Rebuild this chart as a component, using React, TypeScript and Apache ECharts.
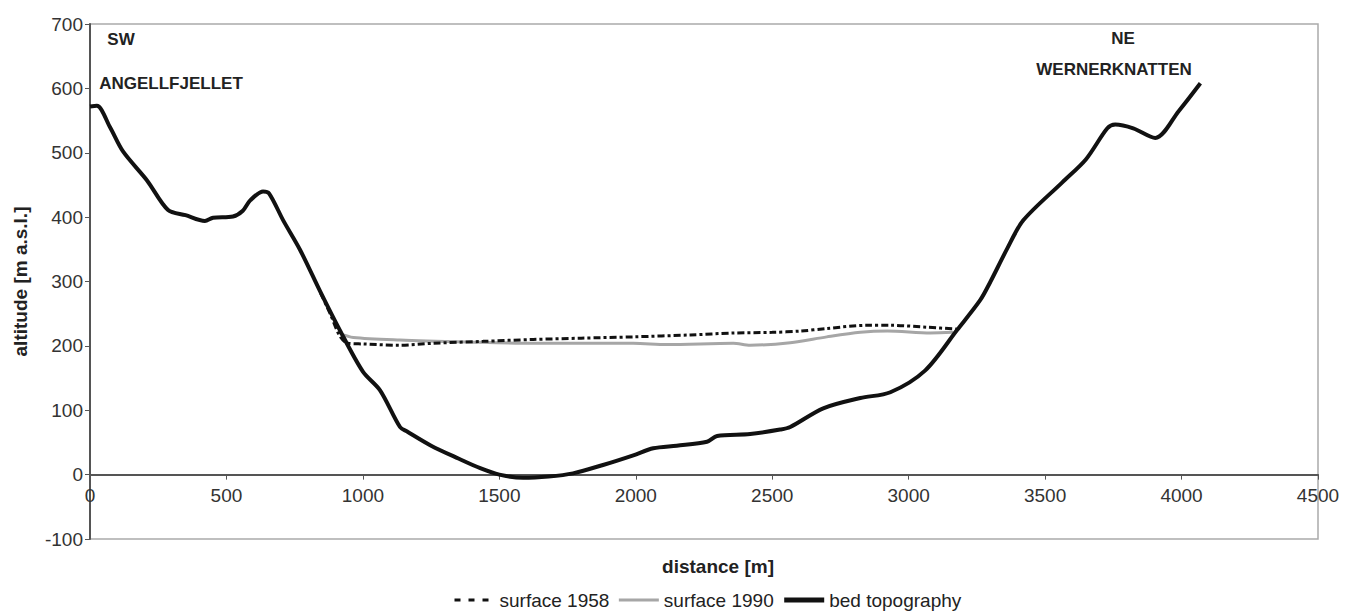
import React, { useEffect, useRef } from "react";
import * as echarts from "echarts";

const bedDistance = [0, 25, 73, 121, 209, 286, 350, 421, 451, 524, 560, 587, 634, 656, 708, 770, 843, 916, 1000, 1063, 1136, 1162, 1250, 1350, 1430, 1500, 1587, 1680, 1770, 1880, 1991, 2064, 2150, 2261, 2298, 2419, 2529, 2566, 2687, 2823, 2933, 3061, 3178, 3262, 3300, 3361, 3420, 3563, 3650, 3728, 3757, 3823, 3904, 3990, 4069];
const bedAltitude = [572, 573, 540, 502, 457, 411, 403, 394, 399, 401, 410, 426, 440, 437, 395, 349, 285, 224, 160, 131, 74, 67, 45, 25, 10, 0, -5, -3, 2, 15, 30, 41, 45, 51, 60, 63, 70, 74, 103, 119, 128, 162, 225, 271, 300, 351, 395, 454, 490, 538, 544, 538, 523, 565, 608];

const s1958Distance = [845, 880, 916, 945, 1000, 1136, 1257, 1440, 1624, 1800, 1991, 2200, 2357, 2500, 2603, 2700, 2848, 2933, 3068, 3178];
const s1958Altitude = [282, 250, 215, 204, 203, 201, 204, 207, 210, 212, 214, 217, 220, 221, 223, 227, 232, 232, 229, 226];

const s1990Distance = [916, 965, 1136, 1382, 1624, 1991, 2114, 2357, 2419, 2566, 2700, 2823, 2922, 3080, 3163];
const s1990Altitude = [219, 213, 209, 206, 204, 204, 202, 204, 201, 205, 214, 221, 223, 220, 221];

const xTicks = { min: 0, max: 4500, interval: 500 };
const yTicks = { min: -100, max: 700, interval: 100 };

const pairs = (xs: number[], ys: number[]) => xs.map((x, i) => [x, ys[i]]);

const FONT = "'Liberation Sans', Arial, sans-serif";
const GRID_TOP = 24;
const GRID_BOTTOM = 75;
const HEIGHT = 614;

export default function App() {
  const ref = useRef<HTMLDivElement>(null);
  useEffect(() => {
    document.body.style.margin = "0";
    const chart = echarts.init(ref.current!, null, { renderer: "svg" });
    const plotH = HEIGHT - GRID_TOP - GRID_BOTTOM;
    const zeroOffset = -plotH * (0 - yTicks.min) / (yTicks.max - yTicks.min);
    chart.setOption({
      animation: false,
      textStyle: { fontFamily: FONT },
      grid: {
        left: 90,
        top: GRID_TOP,
        right: 34,
        bottom: GRID_BOTTOM,
        show: true,
        borderColor: "#aaaaaa",
        borderWidth: 1.5,
      },
      legend: {
        left: 453,
        top: 589,
        itemWidth: 40,
        itemHeight: 14,
        itemGap: 8,
        padding: 0,
        itemStyle: { opacity: 0 },
        textStyle: { fontSize: 19, lineHeight: 22, color: "#222", fontFamily: FONT },
        data: [
          { name: "surface 1958", lineStyle: { type: [6, 8], width: 3, color: "#111" } },
          { name: "surface 1990", lineStyle: { width: 3, color: "#a6a6a6" } },
          { name: "bed topography", lineStyle: { width: 5, color: "#111" } },
        ],
      },
      xAxis: {
        type: "value",
        min: xTicks.min,
        max: xTicks.max,
        interval: xTicks.interval,
        offset: zeroOffset,
        axisLine: { show: true, onZero: false, lineStyle: { color: "#555", width: 2 } },
        axisTick: { show: true, length: 5, lineStyle: { color: "#555" } },
        axisLabel: { fontSize: 19, color: "#333", margin: 11, fontFamily: FONT, formatter: (v: number) => String(v) },
        splitLine: { show: false },
      },
      yAxis: {
        type: "value",
        min: yTicks.min,
        max: yTicks.max,
        interval: yTicks.interval,
        name: "altitude [m a.s.l.]",
        nameLocation: "middle",
        nameGap: 60,
        nameTextStyle: { fontSize: 19, fontWeight: "bold", color: "#222", fontFamily: FONT },
        axisLine: { show: true, lineStyle: { color: "#555", width: 2 } },
        axisTick: { show: true, length: 5, lineStyle: { color: "#555" } },
        axisLabel: { fontSize: 19, color: "#333", margin: 7, fontFamily: FONT },
        splitLine: { show: false },
      },
      graphic: [
        { type: "text", x: 718, y: 566, style: { text: "distance [m]", font: `bold 19px ${FONT}`, fill: "#222", align: "center", verticalAlign: "middle" } },
        { type: "text", x: 121, y: 39, style: { text: "SW", font: `bold 17px ${FONT}`, fill: "#222", align: "center", verticalAlign: "middle" } },
        { type: "text", x: 171, y: 83, style: { text: "ANGELLFJELLET", font: `bold 17px ${FONT}`, fill: "#222", align: "center", verticalAlign: "middle" } },
        { type: "text", x: 1123, y: 38, style: { text: "NE", font: `bold 17px ${FONT}`, fill: "#222", align: "center", verticalAlign: "middle" } },
        { type: "text", x: 1114, y: 69, style: { text: "WERNERKNATTEN", font: `bold 17px ${FONT}`, fill: "#222", align: "center", verticalAlign: "middle" } },
      ],
      series: [
        {
          name: "surface 1958",
          type: "line",
          data: pairs(s1958Distance, s1958Altitude),
          smooth: 0.3,
          symbol: "none",
          lineStyle: { color: "#111", width: 3, type: [7, 3, 3, 3] },
          itemStyle: { color: "#111" },
          z: 3,
        },
        {
          name: "surface 1990",
          type: "line",
          data: pairs(s1990Distance, s1990Altitude),
          smooth: 0.3,
          symbol: "none",
          lineStyle: { color: "#a6a6a6", width: 3 },
          itemStyle: { color: "#a6a6a6" },
          z: 2,
        },
        {
          name: "bed topography",
          type: "line",
          data: pairs(bedDistance, bedAltitude),
          smooth: 0.3,
          symbol: "none",
          lineStyle: { color: "#111", width: 4 },
          itemStyle: { color: "#111" },
          z: 4,
        },
      ],
    });
    return () => chart.dispose();
  }, []);
  return <div ref={ref} style={{ width: 1352, height: 614 }} />;
}
